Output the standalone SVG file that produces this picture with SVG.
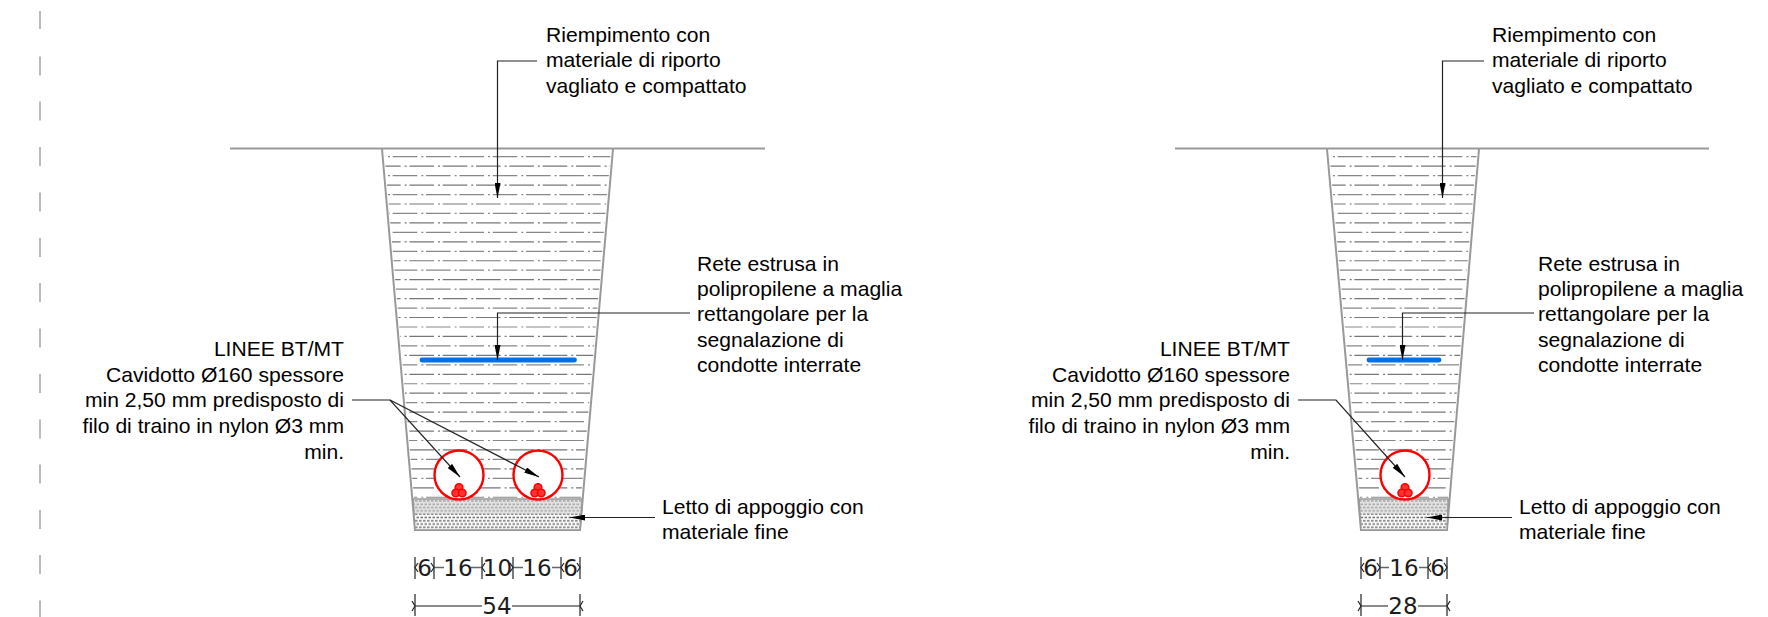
<svg xmlns="http://www.w3.org/2000/svg" width="1768" height="617" viewBox="0 0 1768 617">
<style>
text{font-family:"Liberation Sans",Arial,sans-serif;font-size:21.1px;fill:#000}
.r{text-anchor:end}
.d{font-family:"DejaVu Sans",Verdana,sans-serif;font-size:23px;fill:#1c1c1c;text-anchor:middle}
.g{stroke:#999;stroke-width:2;fill:none}
.k{stroke:#222;stroke-width:1.2;fill:none}
.t{stroke:#222;stroke-width:1.2;fill:none}
.dl{stroke:#666;stroke-width:1.3;fill:none}
.c{stroke:#f00;stroke-width:2.4;fill:#fff}
.cab{stroke:#f00;stroke-width:1.6;fill:#f33}
.b{stroke:#0070e8;stroke-width:4.8;stroke-linecap:round}
.a{stroke:#888;stroke-width:1.2;stroke-dasharray:2 2.7 24.6 4.03;fill:none}
.o{stroke:#777;stroke-width:1.2;stroke-dasharray:2 2.7 24.6 4.03;stroke-dashoffset:16.67;fill:none}
.s{fill:url(#bed)}
.s2{fill:url(#bed2)}
.e{stroke:#999;stroke-width:1.6;fill:none}
</style>
<defs>
<clipPath id="cl"><path d="M384 150H611L581 498H414z"/></clipPath>
<clipPath id="cr"><path d="M1329 150H1477L1448 498H1360z"/></clipPath>
<g id="rows">
<path class="a" d="M0 156.700H300M0 175.620H300M0 194.540H300M0 213.460H300M0 232.380H300M0 251.300H300M0 270.220H300M0 289.140H300M0 308.060H300M0 326.980H300M0 345.900H300M0 364.820H300M0 383.740H300M0 402.660H300M0 421.580H300M0 440.500H300M0 459.420H300M0 478.340H300M0 497.260H300"/>
<path class="o" d="M0 166.160H300M0 185.080H300M0 204H300M0 222.920H300M0 241.840H300M0 260.760H300M0 279.680H300M0 298.600H300M0 317.520H300M0 336.440H300M0 355.360H300M0 374.280H300M0 393.200H300M0 412.120H300M0 431.040H300M0 449.960H300M0 468.880H300M0 487.800H300"/>
</g>
<pattern id="bed" patternUnits="userSpaceOnUse" x="415" y="500" width="4" height="6.600">
<rect width="4" height="6.600" fill="#e4e4e4"/>
<path d="M0 1h2.600M1.500 4.300h2.500" stroke="#a0a0a0" stroke-width="1.300" fill="none"/>
</pattern>
<pattern id="bed2" patternUnits="userSpaceOnUse" x="415" y="500" width="4" height="6.600">
<rect width="4" height="6.600" fill="#fafafa"/>
<path d="M0 1h2.600M1.500 4.300h2.500" stroke="#6c6c6c" stroke-width="1.300" fill="none"/>
</pattern>
<marker id="a" viewBox="0 0 15 6" refX="15" refY="3" markerWidth="15" markerHeight="6" markerUnits="userSpaceOnUse" orient="auto"><path d="M0 0L15 3L0 6z" fill="#000"/></marker>
</defs>
<g id="margin" stroke="#bbb" stroke-width="2">
<path d="M40 11v18M40 56.500v19M40 101.500v19M40 147v19M40 192.500v19M40 238v19M40 283v19M40 328.500v19M40 374v19M40 419.500v19M40 464.500v19M40 510v19M40 555v19M40 600.500v16.500"/>
</g>
<g id="section-left">
<g clip-path="url(#cl)"><use href="#rows" x="354.670"/></g>
<path class="g" d="M230 148.500H765M382 149L415 530H580L613 149"/>
<path class="s" d="M413 499H582.300L581.400 514H414.300z"/>
<path class="s2" d="M414.300 514H581.400L580 530H415z"/>
<path class="e" d="M413 499H582.300L580 530H415z"/>
<path class="b" d="M422 360H574.500"/>
<circle class="c" cx="459" cy="475" r="24.500"/>
<circle class="c" cx="538" cy="475" r="24.500"/>
<g class="cab"><circle cx="459" cy="487.500" r="3.800"/><circle cx="455.800" cy="493" r="3.800"/><circle cx="462.200" cy="493" r="3.800"/></g>
<g class="cab"><circle cx="538" cy="487.500" r="3.800"/><circle cx="534.800" cy="493" r="3.800"/><circle cx="541.200" cy="493" r="3.800"/></g>
</g>
<g id="section-right">
<g clip-path="url(#cr)"><use href="#rows" x="1299.670"/></g>
<path class="g" d="M1175 148.500H1709M1327 149L1361 530H1447L1479 149"/>
<path class="s" d="M1359 499H1448.300L1447.600 514H1360z"/>
<path class="s2" d="M1360 514H1447.600L1447 530H1361z"/>
<path class="e" d="M1359 499H1448.300L1447 530H1361z"/>
<path class="b" d="M1369 360H1439"/>
<circle class="c" cx="1405" cy="475" r="24.500"/>
<g class="cab"><circle cx="1405" cy="487.500" r="3.800"/><circle cx="1401.800" cy="493" r="3.800"/><circle cx="1408.200" cy="493" r="3.800"/></g>
</g>
<g id="connectors">
<path class="k" d="M537 61H497.500V198" marker-end="url(#a)"/>
<path class="k" d="M690 313H497.500V360" marker-end="url(#a)"/>
<path class="k" d="M352 400H390L460 477" marker-end="url(#a)"/>
<path class="k" d="M390 400L539 477" marker-end="url(#a)"/>
<path class="k" d="M655 517.500H570" marker-end="url(#a)"/>
<path class="k" d="M1484 61H1442.500V198" marker-end="url(#a)"/>
<path class="k" d="M1534 313H1402.500V360" marker-end="url(#a)"/>
<path class="k" d="M1298 400H1336L1405 477" marker-end="url(#a)"/>
<path class="k" d="M1512 517.500H1427" marker-end="url(#a)"/>
</g>
<g id="labels-left" transform="translate(0 .7)">
<text x="546" y="41">Riempimento con</text><text x="546" y="66.400">materiale di riporto</text><text x="546" y="92">vagliato e compattato</text>
<text x="697" y="270">Rete estrusa in</text><text x="697" y="295">polipropilene a maglia</text><text x="697" y="320.500">rettangolare per la</text><text x="697" y="346">segnalazione di</text><text x="697" y="371">condotte interrate</text>
<text class="r" x="344" y="355">LINEE BT/MT</text><text class="r" x="344" y="381">Cavidotto Ø160 spessore</text><text class="r" x="344" y="406.500">min 2,50 mm predisposto di</text><text class="r" x="344" y="432">filo di traino in nylon Ø3 mm</text><text class="r" x="344" y="458">min.</text>
<text x="662" y="513">Letto di appoggio con</text><text x="662" y="538">materiale fine</text>
</g>
<g id="labels-right" transform="translate(0 .7)">
<text x="1492" y="41">Riempimento con</text><text x="1492" y="66.400">materiale di riporto</text><text x="1492" y="92">vagliato e compattato</text>
<text x="1538" y="270">Rete estrusa in</text><text x="1538" y="295">polipropilene a maglia</text><text x="1538" y="320.500">rettangolare per la</text><text x="1538" y="346">segnalazione di</text><text x="1538" y="371">condotte interrate</text>
<text class="r" x="1290" y="355">LINEE BT/MT</text><text class="r" x="1290" y="381">Cavidotto Ø160 spessore</text><text class="r" x="1290" y="406.500">min 2,50 mm predisposto di</text><text class="r" x="1290" y="432">filo di traino in nylon Ø3 mm</text><text class="r" x="1290" y="458">min.</text>
<text x="1519" y="513">Letto di appoggio con</text><text x="1519" y="538">materiale fine</text>
</g>
<g id="dim-left">
<path class="t" d="M415 557v22M434 557v22M482 557v22M513 557v22M561 557v22M580 557v22M415 594v22M580 594v22"/>
<path class="dl" d="M434 567.500h10M471 567.500h11M513 567.500h10M552 567.500h9M415 606h67M512 606h68"/>
<path class="t" d="M418 563l-3 4.500l3 4.500M431 563l3 4.500l-3 4.500M485 563l-3 4.500l3 4.500M510 563l3 4.500l-3 4.500M564 563l-3 4.500l3 4.500M577 563l3 4.500l-3 4.500M412 601l3 5l-3 5M583 601l-3 5l3 5"/>
<text class="d" x="424.500" y="575.500">6</text><text class="d" x="458" y="575.500">16</text><text class="d" x="497.500" y="575.500">10</text><text class="d" x="537" y="575.500">16</text><text class="d" x="570.500" y="575.500">6</text><text class="d" x="497" y="614">54</text>
</g>
<g id="dim-right">
<path class="t" d="M1361 557v22M1380 557v22M1428 557v22M1447 557v22M1361 594v22M1447 594v22"/>
<path class="dl" d="M1380 567.500h9M1419 567.500h9M1361 606h27M1418 606h29"/>
<path class="t" d="M1364 563l-3 4.500l3 4.500M1377 563l3 4.500l-3 4.500M1431 563l-3 4.500l3 4.500M1444 563l3 4.500l-3 4.500M1358 601l3 5l-3 5M1450 601l-3 5l3 5"/>
<text class="d" x="1370.500" y="575.500">6</text><text class="d" x="1404" y="575.500">16</text><text class="d" x="1437.500" y="575.500">6</text><text class="d" x="1403" y="614">28</text>
</g>
</svg>
